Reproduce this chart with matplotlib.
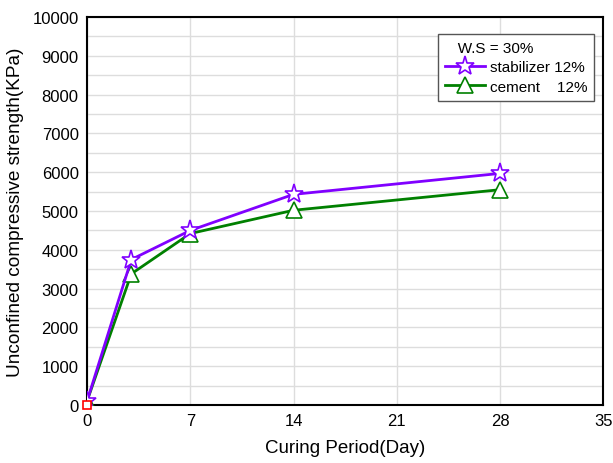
import matplotlib
matplotlib.use("Agg")
import matplotlib.pyplot as plt
from matplotlib.ticker import MultipleLocator

plt.rcParams['font.family'] = ['Liberation Sans', 'DejaVu Sans']

days = [0, 3, 7, 14, 28]
stabilizer = [100, 3750, 4500, 5430, 5970]
cement = [100, 3380, 4420, 5020, 5550]
x_ticks = [0, 7, 14, 21, 28, 35]
y_ticks = list(range(0, 10001, 1000))

fig = plt.figure(figsize=(6.13, 4.64), dpi=100)
ax = fig.add_axes([0.142, 0.125, 0.842, 0.836])

ax.plot(days, stabilizer, color='#8000ff', lw=2, marker='*', ms=14,
        mfc='white', mec='#8000ff', mew=1.2, label='stabilizer 12%', zorder=4)
ax.plot(days, cement, color='#008000', lw=2, marker='^', ms=12,
        mfc='white', mec='#008000', mew=1.2, label='cement    12%', zorder=3)
ax.plot([0], [0], marker='s', ms=6, mfc='white', mec='red', mew=1.2,
        ls='none', zorder=5, clip_on=False)

ax.set_xlim(0, 35)
ax.set_ylim(0, 10000)
ax.set_xticks(x_ticks)
ax.set_yticks(y_ticks)
ax.yaxis.set_minor_locator(MultipleLocator(500))
ax.grid(True, which='major', color='#dddddd', lw=1)
ax.grid(True, which='minor', axis='y', color='#dddddd', lw=1)
ax.tick_params(which='both', length=0, labelsize=12, pad=6)
for s in ax.spines.values():
    s.set_linewidth(1.5)
    s.set_color('black')
ax.set_axisbelow(True)

ax.set_xlabel('Curing Period(Day)', fontsize=13.5, labelpad=8)
ax.set_ylabel('Unconfined compressive strength(KPa)', fontsize=13.7, labelpad=6)

leg = ax.legend(title='   W.S = 30%', loc='upper right', bbox_to_anchor=(0.982, 0.956),
                borderaxespad=0, fontsize=11, title_fontsize=11, fancybox=False,
                framealpha=1, edgecolor='#555555', handlelength=2.6, borderpad=0.45,
                labelspacing=0.35, handletextpad=0.3)
leg._legend_box.align = 'left'
leg.get_frame().set_linewidth(1)

fig.savefig('out.png', dpi=100)
